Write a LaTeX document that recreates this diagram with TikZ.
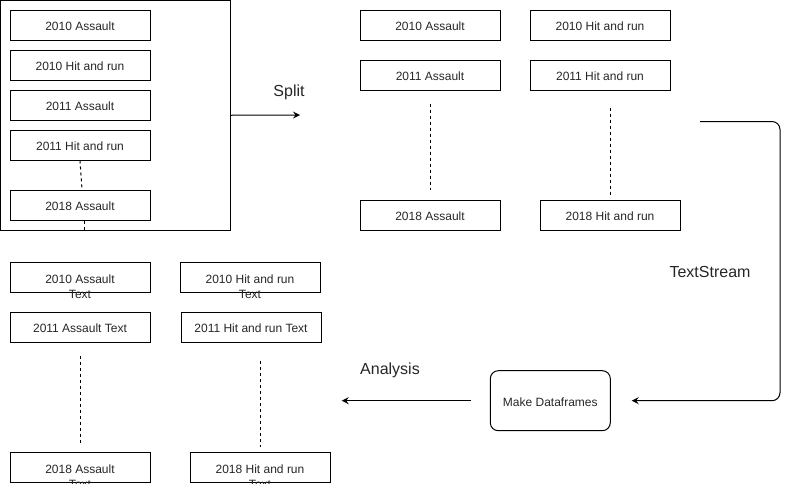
\documentclass[tikz,border=0pt]{standalone}
\usepackage{fontspec}
\setmainfont{Liberation Sans}
\usetikzlibrary{arrows.meta}
\begin{document}
\begin{tikzpicture}[x=1pt,y=-1pt,
  every node/.style={text=black!85},
  box/.style={draw=black,line width=1pt,rectangle,minimum width=140pt,minimum height=30pt,inner sep=0pt,text height=11.5pt,text depth=0pt,font=\fontsize{12}{14.4}\selectfont},
  txt/.style={inner sep=0pt,align=center,font=\fontsize{12}{14.5}\selectfont},
  lbl/.style={inner sep=0pt,font=\fontsize{16}{19}\selectfont},
  dsh/.style={line width=1pt,dash pattern=on 3pt off 3pt},
  arr/.style={line width=1pt,-{Stealth[length=7pt,width=7pt,inset=2.5pt]}}]
\useasboundingbox (0,0) rectangle (789,483);
\clip (0,0) rectangle (789,483);
% left container
\node[draw=black,line width=1pt,minimum width=229.5pt,minimum height=229.5pt,inner sep=0pt] (outer) at (115.25,115.25) {};
\node[box] (l1) at (80,25) {2010 Assault};
\node[box] (l2) at (80,65) {2010 Hit and run};
\node[box] (l3) at (80,105) {2011 Assault};
\node[box] (l4) at (80,145) {2011 Hit and run};
\node[box] (l5) at (80,205) {2018 Assault};
\draw[dsh] (l4.south) -- ([xshift=2pt]l5.north);
\draw[dsh] ([xshift=4pt]l5.south) -- ([xshift=4pt]l5.south |- outer.south);
% split
\coordinate (sp) at (300,115);
\draw[arr] (outer.east) -- (sp);
\node[lbl] (splitlbl) at (289,92.5) {Split};
% right group
\node[box] (r1) at (430,25) {2010 Assault};
\node[box] (r2) at (600,25) {2010 Hit and run};
\node[box] (r3) at (430,75) {2011 Assault};
\node[box] (r4) at (600,75) {2011 Hit and run};
\node[box] (r5) at (430,215) {2018 Assault};
\node[box] (r6) at (610,215) {2018 Hit and run};
\draw[dsh] ([yshift=-13pt]r3.south) -- ([yshift=10pt]r5.north);
\draw[dsh] ([xshift=10pt,yshift=-17pt]r4.south) -- ([yshift=5pt]r6.north);
% make dataframes
\node[draw=black,line width=1pt,rounded corners=8pt,minimum width=120pt,minimum height=60pt,inner sep=0pt,text height=11.5pt,text depth=0pt,font=\fontsize{12}{14.4}\selectfont] (mk) at (550.3,400.7) {Make Dataframes};
% textstream
\coordinate (ts0) at (700,121.5);
\coordinate (ts1) at (631.7,400.7);
\draw[arr,rounded corners=8pt] (ts0) -- (780,121.5) -- (780,400.7) -- (ts1);
\node[lbl] (tslbl) at (710,271.5) {TextStream};
% analysis
\coordinate (an0) at (470.7,400.7);
\coordinate (an1) at (341.7,400.7);
\draw[arr] (an0) -- (an1);
\node[lbl] (anlbl) at (390,370.5) {Analysis};
% bottom left
\node[box] (b1) at (80,277) {};
\node[txt] (b1t) at (80,286.5) {2010 Assault\\Text};
\node[box] (b2) at (250,277) {};
\node[txt] (b2t) at (250,286.5) {2010 Hit and run\\Text};
\node[box] (b3) at (80,327) {2011 Assault Text};
\node[box] (b4) at (251,327) {2011 Hit and run Text};
\node[box] (b5) at (80,467) {};
\node[txt] (b5t) at (80,476.5) {2018 Assault\\Text};
\node[box] (b6) at (260,467) {};
\node[txt] (b6t) at (260,476.5) {2018 Hit and run\\Text};
\draw[dsh] ([yshift=-13pt]b3.south) -- ([yshift=9pt]b5.north);
\draw[dsh] ([xshift=9pt,yshift=-18pt]b4.south) -- ([yshift=5pt]b6.north);
\end{tikzpicture}
\end{document}
